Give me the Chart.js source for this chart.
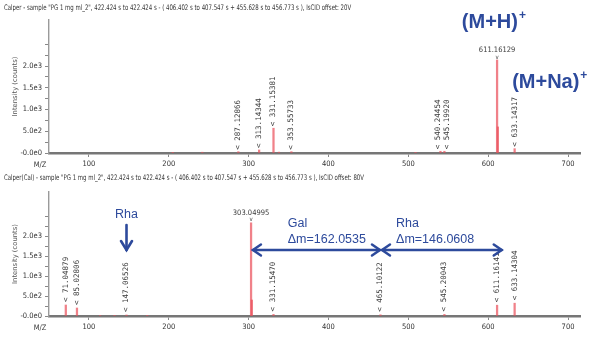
<!DOCTYPE html>
<html><head><meta charset="utf-8">
<script src="https://cdn.jsdelivr.net/npm/chart.js@4"></script>
<style>
html,body{margin:0;padding:0;background:#fff;}
#wrap{position:relative;width:597px;height:339px;overflow:hidden;background:#fff;}
.c{position:absolute;left:0;width:597px;}
</style></head><body>
<div id="wrap">
<div class="c" style="top:0;height:170px"><canvas id="topChart"></canvas></div>
<div class="c" style="top:170px;height:169px"><canvas id="botChart"></canvas></div>
</div>
<script>
// ---------- data ----------
const topTitle = 'Calper - sample "PG 1 mg ml_2", 422.424 s to 422.424 s - ( 406.402 s to 407.547 s + 455.628 s to 456.773 s ), IsCID offset: 20V';
const botTitle = 'Calper(Cal) - sample "PG 1 mg ml_2", 422.424 s to 422.424 s - ( 406.402 s to 407.547 s + 455.628 s to 456.773 s ), IsCID offset: 80V';
const yAxisTitle = 'Intensity (counts)';
const xAxisName = 'M/Z';

const xTickValues = [100, 200, 300, 400, 500, 600, 700];
const yTickValues = [0, 250, 500, 750, 1000, 1250, 1500, 1750, 2000, 2250, 2500];
const yLabelValues = [0, 500, 1000, 1500, 2000];
const yLabelTexts = ['-0.0e0', '5.0e2', '1.0e3', '1.5e3', '2.0e3'];

const topMz        = [205, 242, 287.12866, 313.14344, 331.15381, 338, 353.55733, 509, 540.24454, 545.19920, 611.16129, 612.164, 633.14317];
const topIntensity = [15, 18, 30, 70, 570, 20, 30, 15, 40, 40, 2140, 600, 100];
const topLabels    = ['', '', '287.12866', '313.14344', '331.15381', '', '353.55733', '', '540.24454', '545.19920', '611.16129', '', '633.14317'];

const botMz        = [71.04879, 85.02806, 114, 132, 147.06526, 173, 303.04995, 304.053, 331.15470, 465.10122, 545.20043, 611.16141, 633.14304];
const botIntensity = [275, 200, 15, 15, 25, 15, 2330, 400, 40, 30, 40, 270, 320];
const botLabels    = ['71.04879', '85.02806', '', '', '147.06526', '', '303.04995', '', '331.15470', '465.10122', '545.20043', '611.16141', '633.14304'];

// annotations (text + arrows referenced on m/z and intensity axes)
const galArrow = [305.4, 464.5];
const rhaArrow = [467, 617];
const rhaDownMz = 147.06526;

// ---------- styling ----------
const NARROW = '"Liberation Sans Narrow","DejaVu Sans Condensed",sans-serif';
const MONO = '"DejaVu Sans Mono","Liberation Mono",monospace';
const SANS = '"Liberation Sans",Arial,sans-serif';
const BLUE = '#2d4a9c';
const PEAK = 'rgba(234,80,92,0.72)';

const titlePlugin = {
  id: 'specTitle',
  afterDraw(chart, args, o) {
    const ctx = chart.ctx;
    ctx.save();
    ctx.translate(4, o.y);
    ctx.scale(o.squeeze, 1);
    ctx.font = '7.6px ' + NARROW;
    ctx.fillStyle = '#333';
    ctx.textAlign = 'left'; ctx.textBaseline = 'middle';
    ctx.fillText(o.text, 0, 0);
    ctx.restore();
  }
};

const peakLabelPlugin = {
  id: 'peakLabels',
  afterDatasetsDraw(chart, args, o) {
    const ctx = chart.ctx, xs = chart.scales.x, ys = chart.scales.y;
    const maxI = Math.max(...o.intensity);
    ctx.save();
    ctx.fillStyle = '#3a3a3a';
    const rot = [];
    o.mz.forEach((m, i) => {
      const t = o.labels[i];
      if (!t) return;
      const x = xs.getPixelForValue(m);
      const yTop = ys.getPixelForValue(o.intensity[i]);
      if (o.intensity[i] === maxI) {
        ctx.font = '7.5px ' + NARROW;
        ctx.textAlign = 'center'; ctx.textBaseline = 'middle';
        ctx.fillText(t, x, yTop - 10);
        ctx.font = '6px ' + NARROW;
        ctx.fillText('v', x, yTop - 3);
      } else {
        rot.push({ x, y: Math.min(yTop, ys.bottom - 1) - o.gap, t });
      }
    });
    // spread labels that would overlap
    rot.sort((a, b) => a.x - b.x);
    for (let k = 0; k < rot.length - 1; k++) {
      const d = rot[k + 1].x - rot[k].x;
      if (d < 9) { const s = (9 - d) / 2; rot[k].x -= s; rot[k + 1].x += s; }
    }
    rot.forEach(r => {
      ctx.save();
      ctx.translate(r.x, r.y);
      ctx.rotate(-Math.PI / 2);
      ctx.font = '7.5px ' + MONO;
      ctx.textAlign = 'left'; ctx.textBaseline = 'middle';
      ctx.fillText('< ' + r.t, 0, 0);
      ctx.restore();
    });
    ctx.font = '7.5px ' + NARROW;
    ctx.textAlign = 'center'; ctx.textBaseline = 'middle';
    ctx.fillStyle = '#3a3a3a';
    ctx.fillText(xAxisName, xs.left - 9, xs.top + 12);
    ctx.restore();
  }
};

function chevron(ctx, x, y, dx, dy, len, half) {
  const px = -dy, py = dx;
  ctx.beginPath();
  ctx.moveTo(x - dx * len + px * half, y - dy * len + py * half);
  ctx.lineTo(x, y);
  ctx.lineTo(x - dx * len - px * half, y - dy * len - py * half);
  ctx.stroke();
}

const annotPlugin = {
  id: 'annot',
  afterDatasetsDraw(chart, args, o) {
    const ctx = chart.ctx, xs = chart.scales.x, ys = chart.scales.y;
    ctx.save();
    ctx.fillStyle = BLUE; ctx.strokeStyle = BLUE;
    ctx.lineCap = 'round'; ctx.lineJoin = 'miter';
    (o.texts || []).forEach(t => {
      ctx.font = t.font;
      ctx.textAlign = t.align || 'left'; ctx.textBaseline = 'alphabetic';
      const x = xs.getPixelForValue(t.mz), y = ys.getPixelForValue(t.y);
      ctx.fillText(t.text, x, y);
      if (t.sup) {
        const w = ctx.measureText(t.text).width;
        ctx.font = t.supFont; ctx.textAlign = 'left';
        ctx.fillText(t.sup, x + w + 1, y - t.supRise);
      }
    });
    (o.hArrows || []).forEach(a => {
      const x1 = xs.getPixelForValue(a.from), x2 = xs.getPixelForValue(a.to);
      const y = ys.getPixelForValue(a.y);
      ctx.lineWidth = 2.5;
      ctx.beginPath(); ctx.moveTo(x1, y); ctx.lineTo(x2, y); ctx.stroke();
      chevron(ctx, x1, y, -1, 0, 8, 5.5);
      chevron(ctx, x2, y, 1, 0, 8, 5.5);
    });
    (o.vArrows || []).forEach(a => {
      const x = xs.getPixelForValue(a.mz);
      const y1 = ys.getPixelForValue(a.from), y2 = ys.getPixelForValue(a.to);
      ctx.lineWidth = 2.6;
      ctx.beginPath(); ctx.moveTo(x, y1); ctx.lineTo(x, y2); ctx.stroke();
      chevron(ctx, x, y2, 0, 1, 9, 5.5);
    });
    ctx.restore();
  }
};

function makeChart(id, cfg) {
  const data = cfg.mz.map((m, i) => ({ x: m, y: cfg.intensity[i] }));
  return new Chart(document.getElementById(id), {
    type: 'bar',
    data: { datasets: [{ data, backgroundColor: PEAK, borderWidth: 0, barThickness: 1.6 }] },
    plugins: [titlePlugin, peakLabelPlugin, annotPlugin],
    options: {
      responsive: true, maintainAspectRatio: false, animation: false,
      devicePixelRatio: 1, events: [],
      layout: { padding: { left: 4, right: 17, top: cfg.padTop, bottom: 0 } },
      plugins: {
        legend: { display: false }, tooltip: { enabled: false }, title: { display: false },
        specTitle: { text: cfg.title, y: 8.5, squeeze: 0.79 },
        peakLabels: { mz: cfg.mz, intensity: cfg.intensity, labels: cfg.labels, gap: cfg.gap },
        annot: cfg.annot
      },
      scales: {
        x: {
          type: 'linear', min: 50, max: 715, offset: false,
          afterBuildTicks: s => { s.ticks = xTickValues.map(v => ({ value: v })); },
          afterFit: s => { s.height = cfg.xHeight; },
          ticks: { autoSkip: false, maxRotation: 0, padding: 3, color: '#333',
                   font: { family: NARROW, size: 7.5 } },
          grid: { drawOnChartArea: false, drawTicks: true, tickLength: 4, color: '#888', offset: false },
          border: { display: true, color: '#767676', width: 2.6 }
        },
        y: {
          type: 'linear', min: 0, max: cfg.yMax,
          afterBuildTicks: s => { s.ticks = yTickValues.map(v => ({ value: v })); },
          afterFit: s => { s.width = 45; },
          ticks: {
            autoSkip: false, padding: 3, color: '#333',
            font: { family: NARROW, size: 7.5 },
            callback: v => { const k = yLabelValues.indexOf(v); return k >= 0 ? yLabelTexts[k] : ''; }
          },
          grid: { drawOnChartArea: false, drawTicks: true, tickLength: 4, color: '#888' },
          border: { display: true, color: '#9a9a9a', width: 1.4 },
          title: { display: true, text: yAxisTitle, color: '#555',
                   font: { family: '"DejaVu Sans",sans-serif', size: 6.8 }, padding: { top: 7, bottom: 0 } }
        }
      }
    }
  });
}

makeChart('topChart', {
  title: topTitle, mz: topMz, intensity: topIntensity, labels: topLabels,
  padTop: 20, xHeight: 17, yMax: 3060, gap: 2,
  annot: {
    texts: [
      { text: '(M+H)', sup: '+', mz: 567, y: 2874, font: 'bold 20px ' + SANS, supFont: 'bold 12px ' + SANS, supRise: 9 },
      { text: '(M+Na)', sup: '+', mz: 630, y: 1494, font: 'bold 20px ' + SANS, supFont: 'bold 12px ' + SANS, supRise: 9 }
    ]
  }
});

makeChart('botChart', {
  title: botTitle, mz: botMz, intensity: botIntensity, labels: botLabels,
  padTop: 22, xHeight: 23, yMax: 3100, gap: 3,
  annot: {
    texts: [
      { text: 'Rha', mz: rhaDownMz, y: 2450, font: '12.5px ' + SANS, align: 'center' },
      { text: 'Gal', mz: 349, y: 2225, font: '12.5px ' + SANS },
      { text: 'Δm=162.0535', mz: 349, y: 1825, font: '12.5px ' + SANS },
      { text: 'Rha', mz: 484.6, y: 2225, font: '12.5px ' + SANS },
      { text: 'Δm=146.0608', mz: 484.6, y: 1825, font: '12.5px ' + SANS }
    ],
    hArrows: [
      { from: galArrow[0], to: galArrow[1], y: 1650 },
      { from: rhaArrow[0], to: rhaArrow[1], y: 1650 }
    ],
    vArrows: [ { mz: rhaDownMz, from: 2275, to: 1650 } ]
  }
});
</script>
</body></html>
